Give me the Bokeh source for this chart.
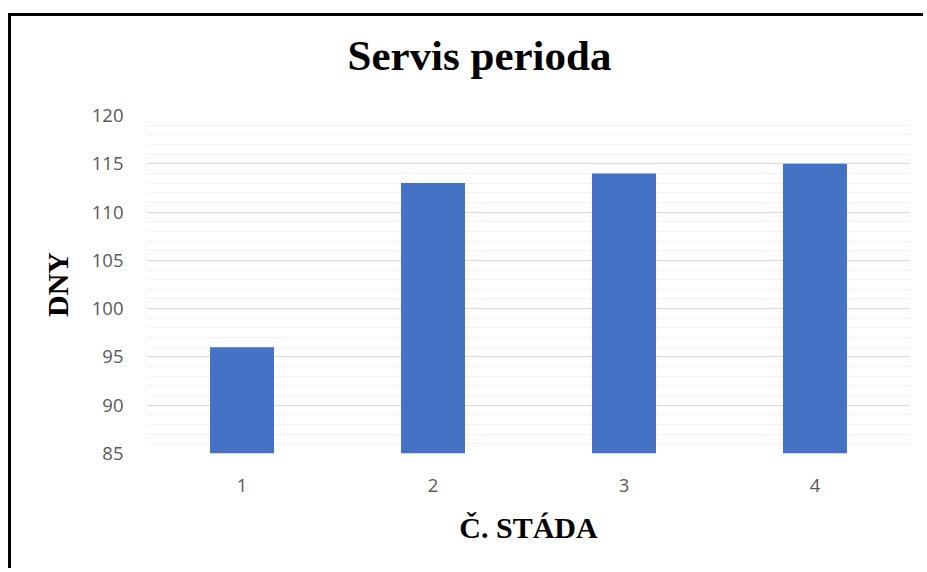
from bokeh.plotting import figure
from bokeh.models import Range1d, FactorRange, SingleIntervalTicker, Title, ColumnDataSource
from bokeh.embed import file_html
from bokeh.resources import INLINE

categories = ["1", "2", "3", "4"]
values = [96, 113, 114, 115]
title_text = "Servis perioda"
x_title = "Č. STÁDA"
y_title = "DNY"
y_min, y_max = 85, 120

src = ColumnDataSource(dict(cat=categories, val=values))

p = figure(
    width=915, height=555,
    x_range=FactorRange(*categories, range_padding=0),
    y_range=Range1d(y_min, y_max),
    output_backend="svg", toolbar_location=None,
)
p.styles = {"border-left": "3px solid black", "border-top": "3px solid black",
            "margin-top": "13px", "margin-left": "8px"}
p.min_border_left = 135
p.min_border_right = 16
p.min_border_top = 99
p.min_border_bottom = 118
p.outline_line_color = None
p.background_fill_color = "white"
p.border_fill_color = "white"

p.vbar(x="cat", top="val", bottom=y_min, width=0.335, source=src,
       fill_color="#4472C4", line_color=None)

# spacer panel between frame and title
spacer = Title(text=" ", text_font_size="1px", standoff=29)
p.add_layout(spacer, "above")
t = Title(text=title_text, align="left", offset=201,
          text_font="Liberation Serif", text_font_size="43px", text_font_style="bold",
          text_color="black", standoff=10)
p.add_layout(t, "above")

yt = SingleIntervalTicker(interval=5, num_minor_ticks=5)
p.yaxis.ticker = yt
p.ygrid.ticker = yt
p.ygrid.grid_line_color = "#d9d9d9"
p.ygrid.grid_line_width = 1
p.ygrid.minor_grid_line_color = "#f2f2f2"
p.ygrid.minor_grid_line_width = 1
p.xgrid.grid_line_color = None

for ax in (p.xaxis, p.yaxis):
    ax.axis_line_color = None
    ax.major_tick_line_color = None
    ax.minor_tick_line_color = None
    ax.major_tick_out = 0
    ax.major_tick_in = 0
    ax.minor_tick_out = 0
    ax.minor_tick_in = 0
    ax.major_label_text_font = "Open Sans"
    ax.major_label_text_font_size = "18.5px"
    ax.major_label_text_color = "#595959"
    ax.axis_label_text_font = "Liberation Serif"
    ax.axis_label_text_font_size = "30px"
    ax.axis_label_text_font_style = "bold"
    ax.axis_label_text_color = "black"

p.xaxis.axis_label = x_title
p.yaxis.axis_label = y_title
p.xaxis.major_label_standoff = 25
p.xaxis.axis_label_standoff = 16
p.yaxis.major_label_standoff = 23
p.yaxis.axis_label_standoff = 15

open("out.html", "w").write(file_html(p, INLINE))
